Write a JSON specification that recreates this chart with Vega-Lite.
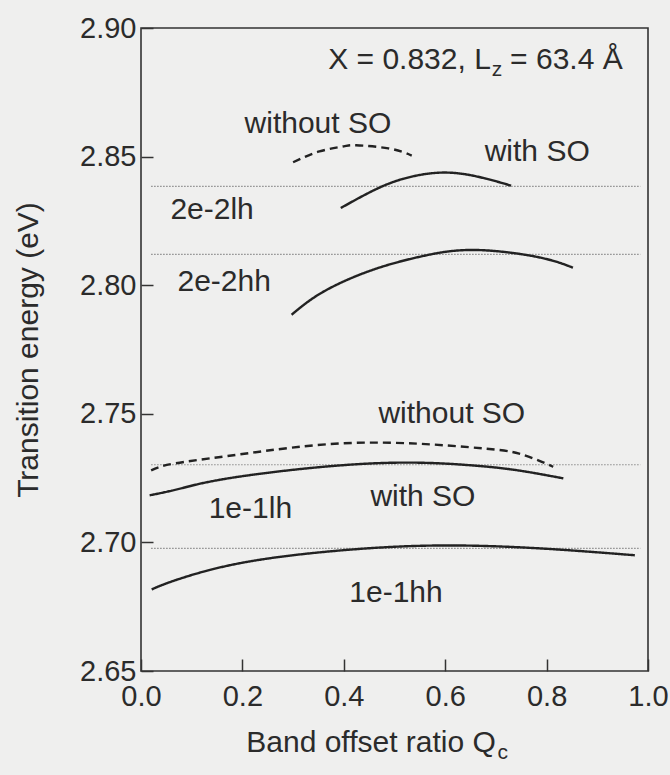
{
  "$schema": "https://vega.github.io/schema/vega-lite/v6.json",
  "width": 507,
  "height": 643,
  "autosize": {"type": "none"},
  "padding": {"left": 141, "top": 28, "right": 22, "bottom": 104},
  "background": "#efefee",
  "config": {
    "view": {"stroke": "#333333", "strokeWidth": 1.6},
    "font": "Liberation Sans",
    "axis": {
      "domain": false,
      "grid": false,
      "ticks": true,
      "tickColor": "#333333",
      "tickWidth": 1.5,
      "tickSize": -12,
      "labelFont": "Liberation Sans",
      "labelFontSize": 29,
      "labelColor": "#2b2b2b",
      "labelOverlap": false,
      "labelFlush": false,
      "labelBound": false,
      "titleFont": "Liberation Sans",
      "titleFontSize": 30,
      "titleFontWeight": "normal",
      "titleColor": "#2b2b2b"
    },
    "text": {"font": "Liberation Sans", "fontSize": 30, "color": "#2b2b2b"}
  },
  "datasets": {
    "curves": [
      {"curve": "2e-2lh without SO", "so": "without SO", "q": 0.300, "e": 2.8478},
      {"curve": "2e-2lh without SO", "so": "without SO", "q": 0.352, "e": 2.8520},
      {"curve": "2e-2lh without SO", "so": "without SO", "q": 0.400, "e": 2.8540},
      {"curve": "2e-2lh without SO", "so": "without SO", "q": 0.424, "e": 2.8544},
      {"curve": "2e-2lh without SO", "so": "without SO", "q": 0.488, "e": 2.8532},
      {"curve": "2e-2lh without SO", "so": "without SO", "q": 0.534, "e": 2.8504},

      {"curve": "2e-2lh with SO", "so": "with SO", "q": 0.394, "e": 2.8300},
      {"curve": "2e-2lh with SO", "so": "with SO", "q": 0.452, "e": 2.8362},
      {"curve": "2e-2lh with SO", "so": "with SO", "q": 0.516, "e": 2.8413},
      {"curve": "2e-2lh with SO", "so": "with SO", "q": 0.601, "e": 2.8438},
      {"curve": "2e-2lh with SO", "so": "with SO", "q": 0.679, "e": 2.8415},
      {"curve": "2e-2lh with SO", "so": "with SO", "q": 0.730, "e": 2.8387},

      {"curve": "2e-2hh with SO", "so": "with SO", "q": 0.297, "e": 2.7885},
      {"curve": "2e-2hh with SO", "so": "with SO", "q": 0.360, "e": 2.7975},
      {"curve": "2e-2hh with SO", "so": "with SO", "q": 0.456, "e": 2.8059},
      {"curve": "2e-2hh with SO", "so": "with SO", "q": 0.553, "e": 2.8112},
      {"curve": "2e-2hh with SO", "so": "with SO", "q": 0.656, "e": 2.8137},
      {"curve": "2e-2hh with SO", "so": "with SO", "q": 0.781, "e": 2.8110},
      {"curve": "2e-2hh with SO", "so": "with SO", "q": 0.852, "e": 2.8068},

      {"curve": "1e-1lh without SO", "so": "without SO", "q": 0.020, "e": 2.7280},
      {"curve": "1e-1lh without SO", "so": "without SO", "q": 0.064, "e": 2.7306},
      {"curve": "1e-1lh without SO", "so": "without SO", "q": 0.194, "e": 2.7342},
      {"curve": "1e-1lh without SO", "so": "without SO", "q": 0.422, "e": 2.7387},
      {"curve": "1e-1lh without SO", "so": "without SO", "q": 0.648, "e": 2.7370},
      {"curve": "1e-1lh without SO", "so": "without SO", "q": 0.746, "e": 2.7345},
      {"curve": "1e-1lh without SO", "so": "without SO", "q": 0.813, "e": 2.7294},

      {"curve": "1e-1lh with SO", "so": "with SO", "q": 0.017, "e": 2.7183},
      {"curve": "1e-1lh with SO", "so": "with SO", "q": 0.079, "e": 2.7210},
      {"curve": "1e-1lh with SO", "so": "with SO", "q": 0.195, "e": 2.7256},
      {"curve": "1e-1lh with SO", "so": "with SO", "q": 0.454, "e": 2.7307},
      {"curve": "1e-1lh with SO", "so": "with SO", "q": 0.649, "e": 2.7300},
      {"curve": "1e-1lh with SO", "so": "with SO", "q": 0.747, "e": 2.7279},
      {"curve": "1e-1lh with SO", "so": "with SO", "q": 0.833, "e": 2.7249},

      {"curve": "1e-1hh with SO", "so": "with SO", "q": 0.021, "e": 2.6817},
      {"curve": "1e-1hh with SO", "so": "with SO", "q": 0.071, "e": 2.6855},
      {"curve": "1e-1hh with SO", "so": "with SO", "q": 0.200, "e": 2.6921},
      {"curve": "1e-1hh with SO", "so": "with SO", "q": 0.395, "e": 2.6969},
      {"curve": "1e-1hh with SO", "so": "with SO", "q": 0.589, "e": 2.6988},
      {"curve": "1e-1hh with SO", "so": "with SO", "q": 0.784, "e": 2.6977},
      {"curve": "1e-1hh with SO", "so": "with SO", "q": 0.974, "e": 2.6950}
    ],
    "levels": [
      {"level": "2e-2lh", "q": 0.02, "e": 2.8384},
      {"level": "2e-2lh", "q": 0.985, "e": 2.8384},
      {"level": "2e-2hh", "q": 0.02, "e": 2.8120},
      {"level": "2e-2hh", "q": 0.985, "e": 2.8120},
      {"level": "1e-1lh", "q": 0.02, "e": 2.7302},
      {"level": "1e-1lh", "q": 0.985, "e": 2.7302},
      {"level": "1e-1hh", "q": 0.02, "e": 2.6977},
      {"level": "1e-1hh", "q": 0.985, "e": 2.6977}
    ],
    "leftLabels": [
      {"label": "2e-2lh", "q": 0.058, "e": 2.8256},
      {"label": "2e-2hh", "q": 0.072, "e": 2.7976},
      {"label": "1e-1lh", "q": 0.1335, "e": 2.7096},
      {"label": "= 63.4 Å", "q": 0.728, "e": 2.8840}
    ],
    "centerLabels": [
      {"label": "without SO", "q": 0.349, "e": 2.8593},
      {"label": "with SO", "q": 0.7815, "e": 2.8484},
      {"label": "without SO", "q": 0.613, "e": 2.7465},
      {"label": "with SO", "q": 0.556, "e": 2.7142},
      {"label": "1e-1hh", "q": 0.503, "e": 2.6769}
    ],
    "rightLabels": [
      {"label": "X = 0.832, L", "q": 0.690, "e": 2.8840},
      {"label": "Band offset ratio Q", "q": 0.700, "e": 2.6185}
    ],
    "subscripts": [
      {"label": "z", "q": 0.692, "e": 2.8814},
      {"label": "c", "q": 0.703, "e": 2.6157}
    ]
  },
  "encoding": {
    "x": {
      "field": "q",
      "type": "quantitative",
      "scale": {"domain": [0, 1], "nice": false, "zero": false},
      "axis": {
        "title": null,
        "values": [0, 0.2, 0.4, 0.6, 0.8, 1.0],
        "format": ".1f",
        "labelPadding": 23
      }
    },
    "y": {
      "field": "e",
      "type": "quantitative",
      "scale": {"domain": [2.65, 2.9], "nice": false, "zero": false},
      "axis": {
        "title": "Transition energy (eV)",
        "values": [2.65, 2.7, 2.75, 2.8, 2.85, 2.9],
        "format": ".2f",
        "labelPadding": 17,
        "titlePadding": 36
      }
    }
  },
  "layer": [
    {
      "data": {"name": "levels"},
      "mark": {"type": "line", "stroke": "#8c8c8c", "strokeWidth": 1.2, "strokeDash": [1.5, 1.5]},
      "encoding": {"detail": {"field": "level", "type": "nominal"}}
    },
    {
      "data": {"name": "curves"},
      "mark": {"type": "line", "stroke": "#222222", "strokeWidth": 2.4, "interpolate": "natural"},
      "encoding": {
        "detail": {"field": "curve", "type": "nominal"},
        "strokeDash": {
          "field": "so",
          "type": "nominal",
          "scale": {"domain": ["with SO", "without SO"], "range": [[1, 0], [8, 5]]},
          "legend": null
        }
      }
    },
    {
      "data": {"name": "leftLabels"},
      "mark": {"type": "text", "align": "left", "baseline": "alphabetic", "clip": false},
      "encoding": {"text": {"field": "label"}}
    },
    {
      "data": {"name": "centerLabels"},
      "mark": {"type": "text", "align": "center", "baseline": "alphabetic", "clip": false},
      "encoding": {"text": {"field": "label"}}
    },
    {
      "data": {"name": "rightLabels"},
      "mark": {"type": "text", "align": "right", "baseline": "alphabetic", "clip": false},
      "encoding": {"text": {"field": "label"}}
    },
    {
      "data": {"name": "subscripts"},
      "mark": {"type": "text", "align": "left", "baseline": "alphabetic", "fontSize": 21, "clip": false},
      "encoding": {"text": {"field": "label"}}
    }
  ]
}
